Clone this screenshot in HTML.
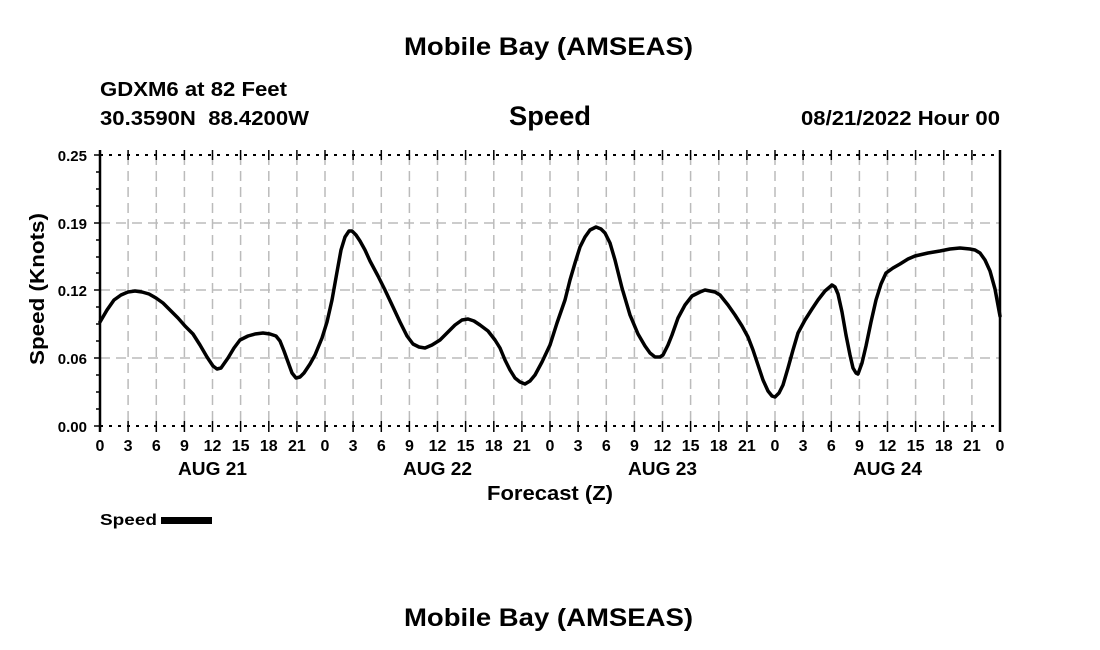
<!DOCTYPE html><html><head><style>body{margin:0;background:#fff}svg{display:block}text{font-family:"Liberation Sans",Arial,sans-serif;font-weight:bold;fill:#000}</style></head><body>
<svg width="1100" height="650" viewBox="0 0 1100 650">
<text x="404" y="55" font-size="25" textLength="289" lengthAdjust="spacingAndGlyphs">Mobile Bay (AMSEAS)</text>
<text x="100" y="96" font-size="20" textLength="187" lengthAdjust="spacingAndGlyphs">GDXM6 at 82 Feet</text>
<text x="100" y="125" font-size="20" textLength="209" lengthAdjust="spacingAndGlyphs" xml:space="preserve">30.3590N  88.4200W</text>
<text x="509" y="125" font-size="27" textLength="82" lengthAdjust="spacingAndGlyphs">Speed</text>
<text x="801" y="125" font-size="20" textLength="199" lengthAdjust="spacingAndGlyphs">08/21/2022 Hour 00</text>
<g stroke="#bbb" stroke-width="1.5" stroke-dasharray="10,6" fill="none">
<path d="M100 223H1000M100 290H1000M100 358H1000"/>
<path d="M128.1 155V426M156.3 155V426M184.4 155V426M212.5 155V426M240.6 155V426M268.8 155V426M296.9 155V426M325 155V426M353.1 155V426M381.3 155V426M409.4 155V426M437.5 155V426M465.6 155V426M493.8 155V426M521.9 155V426M550 155V426M578.1 155V426M606.3 155V426M634.4 155V426M662.5 155V426M690.6 155V426M718.8 155V426M746.9 155V426M775 155V426M803.1 155V426M831.3 155V426M859.4 155V426M887.5 155V426M915.6 155V426M943.8 155V426M971.9 155V426"/>
</g>
<g stroke="#000" fill="none">
<path d="M100 155H1000M100 426H1000" stroke-width="2" stroke-dasharray="3,6"/>
<path d="M100 150V432M1000 150V432" stroke-width="2.5"/>
<path d="M94 155H100M94 223H100M94 290H100M94 358H100M94 426H100M96 172H100M96 189H100M96 206H100M96 240H100M96 257H100M96 273H100M96 307H100M96 324H100M96 341H100M96 375H100M96 392H100M96 409H100" stroke-width="1.5"/>
<path d="M128.1 150V160M156.3 150V160M184.4 150V160M212.5 150V160M240.6 150V160M268.8 150V160M296.9 150V160M325 150V160M353.1 150V160M381.3 150V160M409.4 150V160M437.5 150V160M465.6 150V160M493.8 150V160M521.9 150V160M550 150V160M578.1 150V160M606.3 150V160M634.4 150V160M662.5 150V160M690.6 150V160M718.8 150V160M746.9 150V160M775 150V160M803.1 150V160M831.3 150V160M859.4 150V160M887.5 150V160M915.6 150V160M943.8 150V160M971.9 150V160" stroke-width="1.5"/>
<path d="M128.1 421V432M156.3 421V432M184.4 421V432M212.5 421V432M240.6 421V432M268.8 421V432M296.9 421V432M325 421V432M353.1 421V432M381.3 421V432M409.4 421V432M437.5 421V432M465.6 421V432M493.8 421V432M521.9 421V432M550 421V432M578.1 421V432M606.3 421V432M634.4 421V432M662.5 421V432M690.6 421V432M718.8 421V432M746.9 421V432M775 421V432M803.1 421V432M831.3 421V432M859.4 421V432M887.5 421V432M915.6 421V432M943.8 421V432M971.9 421V432" stroke-width="1.5"/>
</g>
<g font-size="15" text-anchor="end">
<text x="87" y="161">0.25</text><text x="87" y="229">0.19</text><text x="87" y="296">0.12</text><text x="87" y="364">0.06</text><text x="87" y="432">0.00</text>
</g>
<g font-size="16" text-anchor="middle">
<text x="100" y="451">0</text><text x="128.1" y="451">3</text><text x="156.3" y="451">6</text><text x="184.4" y="451">9</text><text x="212.5" y="451">12</text><text x="240.6" y="451">15</text><text x="268.8" y="451">18</text><text x="296.9" y="451">21</text>
<text x="325" y="451">0</text><text x="353.1" y="451">3</text><text x="381.3" y="451">6</text><text x="409.4" y="451">9</text><text x="437.5" y="451">12</text><text x="465.6" y="451">15</text><text x="493.8" y="451">18</text><text x="521.9" y="451">21</text>
<text x="550" y="451">0</text><text x="578.1" y="451">3</text><text x="606.3" y="451">6</text><text x="634.4" y="451">9</text><text x="662.5" y="451">12</text><text x="690.6" y="451">15</text><text x="718.8" y="451">18</text><text x="746.9" y="451">21</text>
<text x="775" y="451">0</text><text x="803.1" y="451">3</text><text x="831.3" y="451">6</text><text x="859.4" y="451">9</text><text x="887.5" y="451">12</text><text x="915.6" y="451">15</text><text x="943.8" y="451">18</text><text x="971.9" y="451">21</text><text x="1000" y="451">0</text>
</g>
<g font-size="18">
<text x="178" y="475" textLength="69" lengthAdjust="spacingAndGlyphs">AUG 21</text><text x="403" y="475" textLength="69" lengthAdjust="spacingAndGlyphs">AUG 22</text><text x="628" y="475" textLength="69" lengthAdjust="spacingAndGlyphs">AUG 23</text><text x="853" y="475" textLength="69" lengthAdjust="spacingAndGlyphs">AUG 24</text>
<text x="487" y="500" font-size="20" textLength="126" lengthAdjust="spacingAndGlyphs">Forecast (Z)</text>
<text transform="translate(44,365) rotate(-90)" font-size="20" textLength="152" lengthAdjust="spacingAndGlyphs">Speed (Knots)</text>
</g>
<polyline fill="none" stroke="#000" stroke-width="3.5" stroke-linejoin="round" stroke-linecap="round" points="100,322 107,310 114,300 121,295 128,292 135,291 142,292 149,294 156,298 163,303 170,310 178,318 185,326 193,334 200,345 207,357 213,366 217,369 221,368 228,358 234,348 240,340 248,336 255,334 263,333 270,334 276,336 280,341 284,351 288,362 292,373 296,378 300,377 304,373 310,364 315,355 322,338 327,322 332,300 337,272 341,250 345,237 349,231 352,231 356,235 360,241 365,250 370,261 378,276 385,290 393,307 400,322 407,336 413,344 419,347 425,348 432,345 440,340 447,333 455,325 462,320 468,319 474,321 480,325 488,331 495,340 500,348 505,360 510,370 515,378 520,382 525,384 530,381 535,375 542,362 550,345 557,323 565,300 570,280 575,263 580,247 585,237 590,230 596,227 601,229 605,233 610,243 615,260 622,288 630,315 638,334 645,346 650,353 655,357 660,357 663,355 668,345 672,335 678,318 685,305 692,296 700,292 705,290 710,291 715,292 720,295 728,305 735,315 742,326 748,337 753,350 758,365 763,380 768,391 772,396 775,397 779,393 783,385 788,368 793,350 798,333 805,320 812,309 818,300 825,291 832,285 835,287 838,294 842,312 846,335 850,355 853,368 856,373 858,374 862,363 866,346 871,322 876,300 881,284 886,273 893,268 900,264 908,259 915,256 928,253 940,251 950,249 960,248 970,249 975,250 980,253 985,260 990,271 995,289 1000,316"/>
<text x="100" y="525" font-size="16" textLength="57" lengthAdjust="spacingAndGlyphs">Speed</text>
<rect x="161" y="517" width="51" height="7" fill="#000"/>
<text x="404" y="626" font-size="25" textLength="289" lengthAdjust="spacingAndGlyphs">Mobile Bay (AMSEAS)</text>
</svg>
</body></html>
